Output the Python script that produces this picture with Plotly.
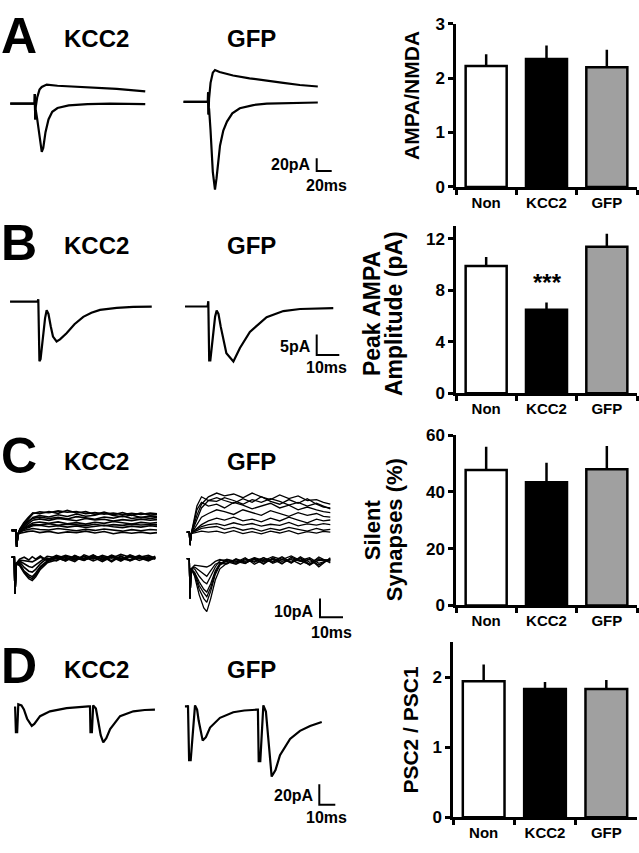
import plotly.graph_objects as go

W, H = 639, 853
FONT = "Liberation Sans, Arial, sans-serif"

# ---- bar chart data (mean, sem) ----
groups = ["Non", "KCC2", "GFP"]
bar_colors = ["white", "black", "#a0a0a0"]

ampa_nmda = [2.22, 2.35, 2.20]
ampa_nmda_sem = [0.22, 0.25, 0.32]
peak_ampa = [9.9, 6.5, 11.4]
peak_ampa_sem = [0.7, 0.55, 1.0]
silent_pct = [47.8, 43.4, 48.0]
silent_pct_sem = [8.2, 6.9, 8.2]
psc_ratio = [1.94, 1.83, 1.83]
psc_ratio_sem = [0.24, 0.10, 0.13]

# ---- example traces (ms, pA) ----
# A: AMPA (-70 mV, inward) and NMDA (+40 mV, outward)
a_kcc2_ampa_t = [-33, -0.5, -0.3, 0.3, 1, 3, 6, 9, 11, 14, 18, 23, 30, 45, 70, 100, 147]
a_kcc2_ampa_i = [0, 0, 15, -25, -10, -25, -55, -76, -70, -45, -25, -13, -7, -3, -1, 0, -1]
a_kcc2_nmda_t = [-33, -0.5, -0.3, 0.3, 1, 3, 6, 9, 15.6, 30, 64, 109, 147]
a_kcc2_nmda_i = [0, 0, 15, -25, -5, 10, 22, 26, 29.8, 28, 25.7, 23, 19]
a_gfp_ampa_t = [-33, -0.5, -0.3, 0.3, 1, 3, 6, 8.9, 11, 15.6, 20, 24.9, 32, 42, 60, 78, 110, 146]
a_gfp_ampa_i = [0, 0, 15, -20, -10, -45, -110, -138, -120, -69, -45, -31, -18, -10, -5, -2.6, -1.5, -1]
a_gfp_nmda_t = [-33, -0.5, -0.3, 0.3, 1, 3, 6, 8.9, 15, 33, 55, 78, 100, 122, 146]
a_gfp_nmda_i = [0, 0, 15, -20, 5, 30, 46, 50, 47, 41.5, 37, 34, 30, 26.6, 24.2]

# B: evoked AMPA EPSCs
b_kcc2_t = [-12.5, -0.3, 0, 0.5, 1.0, 2.0, 3.0, 3.7, 4.5, 5.5, 6.5, 8.1, 9.6, 12.5, 16, 19.9, 23.5, 27.3, 34.7, 42, 50.2]
b_kcc2_i = [0, 0, 0.6, -14.5, -14.0, -8.5, -4.0, -2.1, -3.0, -6.0, -8.5, -9.7, -9.2, -7.7, -5.5, -3.7, -2.7, -2.0, -1.5, -1.3, -1.2]
b_gfp_t = [-10.3, -0.3, 0, 0.4, 0.9, 2.0, 3.0, 3.7, 4.5, 5.5, 8.0, 11.1, 14.0, 18.4, 25.8, 33.2, 40.6, 55.3]
b_gfp_i = [0, 0, 1.3, -13.1, -13.1, -7.3, -2.5, -1.0, -1.8, -4.9, -11.4, -13.4, -10.1, -6.2, -2.6, -1.1, -0.6, -0.4]

# C: minimal stimulation sweeps at +40 mV (upper) and -60 mV (lower)
c_kcc2_pos_t = [-2.2, -0.3, 0, 0.5, 1.5, 3, 5, 7, 10, 14, 18, 22, 26, 30, 34, 38, 42, 46, 50, 54, 58, 61]
c_kcc2_pos_sweeps = [
    [0, 0, -8.8, -2, 1, 3, 6, 9, 10, 9.5, 10.5, 9.8, 10.2, 9, 9.6, 8.8, 9.4, 8.5, 9.2, 8.6, 9.3, 9.0],
    [0, 0, -8.8, -2, 1, 4, 7, 9.5, 9, 10.2, 9.2, 10.8, 9.4, 10.1, 8.6, 9.9, 8.4, 9.6, 8.1, 9.4, 8.3, 8.6],
    [0, 0, -8.8, -2, 0.5, 2, 4.5, 7, 8, 7.2, 8.4, 7.5, 8.8, 7.6, 8.2, 9.5, 8.0, 7.4, 8.3, 7.0, 7.8, 7.5],
    [0, 0, -8.8, -2, 0.5, 2.5, 5, 6.5, 7.2, 6.4, 7.0, 6.2, 7.4, 6.8, 6.0, 7.2, 6.6, 7.8, 6.4, 7.1, 6.5, 6.9],
    [0, 0, -8.8, -2, 0, 1.5, 3.5, 5.5, 6.2, 5.4, 6.5, 5.8, 5.2, 6.4, 5.6, 6.0, 5.0, 5.8, 5.3, 6.1, 5.5, 5.8],
    [0, 0, -8.8, -2, 0, 1, 2.5, 4, 4.5, 3.8, 4.6, 3.6, 4.2, 3.4, 4.4, 3.8, 4.8, 4.0, 3.5, 4.3, 3.9, 4.2],
    [0, 0, -8.8, -2, -0.5, 1, 2, 3.2, 3.0, 3.6, 2.8, 3.4, 3.0, 2.6, 3.3, 2.5, 3.1, 2.7, 3.4, 2.9, 3.2, 3.0],
    [0, 0, -8.8, -2, -0.5, 0.5, 1.5, 2.5, 2.8, 2.0, 2.6, 1.8, 2.4, 1.6, 2.2, 2.8, 2.0, 1.5, 2.3, 1.8, 2.5, 2.2],
    [0, 0, -8.8, -2, -1, 0, 0.5, 1, 0.5, 0.2, 1.0, 0.4, -0.2, 0.6, 0.0, 0.8, 0.2, -0.4, 0.4, -0.2, 0.5, 0.2],
    [0, 0, -8.8, -2, -1.5, -1, -0.5, -0.3, -1.2, -0.5, -1.5, -0.8, -1.2, -0.4, -1.4, -0.6, -1.8, -1.0, -1.5, -0.9, -1.6, -1.2],
]
c_kcc2_neg_t = [-1.5, -0.3, 0, 0.5, 2, 4, 6, 7.5, 9, 11, 14, 18, 22, 26, 30, 34, 38, 42, 46, 50, 54, 58, 61]
c_kcc2_neg_sweeps = [
    [0.5, 0.5, -19, -3, -4, -8, -11, -12, -10, -6, -2.5, -1, 0.5, -1, 1, -0.5, 1.5, 0, 2, 0.5, 1, -0.5, 0.5],
    [0.5, 0.5, -19, -3, -3.5, -7.5, -10, -11, -9, -5, -2, 0.5, -1.5, 1.2, -0.4, 1.8, -1, 0.6, -1.6, 1.2, 0.2, -1.4, 0.4],
    [0.5, 0.5, -19, -3, -3, -7, -9, -10, -8, -4.5, -1.5, 1, -0.8, 0.8, -1.2, 1.5, -0.5, 1.2, -1, 1.8, -0.2, 0.8, 0],
    [0.5, 0.5, -19, -3, -2, -5, -7, -7.5, -6, -3, 0, -1.5, 1.2, -0.5, 0.8, -1.5, 0.5, -1.2, 0.8, -0.8, 1.5, -1, 0.2],
    [0.5, 0.5, -19, -3, -1.5, -3, -4.5, -5, -3.5, -1.5, 1, 0.2, -1.5, 1.5, -0.8, 0.5, -1.8, 0.8, -0.5, 1, -1.2, 0.5, -0.5],
    [0.5, 0.5, -19, -3, -1, -1.5, -2, -2, -1, 0.5, -1, 1.5, 0, -1.8, 1.8, 0, 1, -2, 1.2, -1.5, 0.5, 1.5, 0],
    [0.5, 0.5, -19, -3, -0.5, 0.5, -1, 0.8, -0.5, 1.2, -1.5, -0.2, 1.6, 0.4, -1.2, 1.0, -0.8, 1.6, -0.2, -1.2, 0.8, -0.6, 1.0],
]
c_gfp_pos_t = [-1.4, -0.3, 0, 0.5, 1.5, 3, 5, 8, 11.6, 15, 19, 23, 27, 31, 35, 39, 43, 47, 51, 55, 58, 61]
c_gfp_pos_sweeps = [
    [0, 0, -7, -1, 3, 9, 15, 19, 21, 19.5, 20.5, 18.5, 21, 19, 17.5, 20, 18, 19.5, 17, 17.5, 16, 15],
    [0, 0, -7, -1, 2, 7, 13, 17, 18.5, 17, 15.5, 18, 16, 19, 16.5, 15, 17.5, 15.5, 18, 15, 13.5, 13],
    [0, 0, -7, -1, 5, 14, 19, 17, 16.5, 18.5, 17, 15, 17.5, 16, 18, 16.5, 14.5, 16, 14, 15.5, 14, 12.5],
    [0, 0, -7, -1, 4, 12, 16, 14, 15, 13, 16, 14.5, 12.5, 14, 15.5, 13, 14.5, 12, 13.5, 12, 11, 10.5],
    [0, 0, -7, -1, 1, 4, 8, 10, 12, 11, 9.5, 12, 10.5, 9, 11.5, 10, 8.5, 10.5, 9, 10, 8.5, 8],
    [0, 0, -7, -1, 0.5, 2, 4, 6, 7.5, 6.5, 8, 6, 7, 5.5, 7.5, 6, 8, 6.5, 5, 7, 6, 6.5],
    [0, 0, -7, -1, 0.5, 1.5, 3, 4, 4.5, 3.5, 5, 3.8, 4.6, 3.2, 4.2, 3.6, 5.2, 3.4, 4.4, 3.8, 4.6, 4.0],
    [0, 0, -7, -1, 0, 1, 2, 2.5, 3, 1.5, 2.5, 1, 2, 0.5, 2, 1, 2.5, 1.5, 0.5, 2, 1, 1.5],
    [0, 0, -7, -1, -0.5, 0, 0.5, 0, 0.5, -0.5, 0.8, -0.8, 0.2, -1.0, 0.5, -0.5, 0.8, -1, 0.2, -0.6, 0.4, 0],
]
c_gfp_neg_t = [-1.4, -0.3, 0, 0.5, 2, 4, 6, 7.3, 9, 11, 13, 16, 20, 24, 28, 32, 36, 40, 44, 48, 52, 56, 61]
c_gfp_neg_sweeps = [
    [1.5, 1.5, -20, -4, -8, -18, -25, -27, -20, -10, -4, -1, 1, 0, 2, 0.5, 2.5, 1, 3, 0.5, 2, -1, 1],
    [1.5, 1.5, -20, -4, -7, -15, -20, -22, -16, -7, -2, 0.5, -1, 1.5, -0.5, 2, 0, 2.5, -0.5, 1.5, -2, 1, 0.5],
    [1.5, 1.5, -20, -4, -6, -13, -17, -19, -14, -6, -1.5, 1.2, 0, -1.2, 1.8, -0.2, 1.2, -1.4, 2.2, 0.2, -1.6, 2.4, -0.8],
    [1.5, 1.5, -20, -4, -6, -11, -15, -16.5, -12, -5, -1, -1.5, 1.5, -0.5, 1, -1, 1.5, 0, 1, -1.5, 1.5, -3, 2],
    [1.5, 1.5, -20, -4, -4, -8, -11, -12, -8, -3, 0.5, 1, -0.5, 2, -1.5, 1, -0.5, 2, -1, 2.5, -0.5, 1.5, 0],
    [1.5, 1.5, -20, -4, -3, -5, -7, -8, -5, -1.5, -0.5, -1, 1, -1, 1.5, -1.5, 2, -1, 1.5, 0, 1, -2, 1.5],
    [1.5, 1.5, -20, -4, -2, -2.5, -3, -3, -2, 0, 1, 0, -1.5, 1, 0, 2, -1, 1, -0.5, 2, -1.5, 0.5, 1],
]

# D: paired-pulse responses
d_kcc2_t = [-1, -0.5, 0.3, 1, 3, 4.5, 6.5, 9.4, 11, 14.6, 20.8, 31.2, 44.8, 45.8, 46.1, 47, 47.8, 49.5, 51, 52.5, 54.1, 56, 58.4, 64.6, 72.9, 80, 86.4]
d_kcc2_i = [0, -25, -25, 2, 1, -3, -12, -19, -17, -9.5, -4.8, -1.6, 0, 0, -25, -25, 1, -2, -15, -28, -35, -31, -22, -9.5, -4.8, -3.5, -3.2]
d_gfp_t = [-2.1, -0.5, -0.2, 0.5, 1.5, 3.0, 4.2, 5.5, 6.5, 9, 11, 13.6, 19.8, 28.1, 35, 42.7, 43.5, 44.0, 45.0, 46.9, 48.5, 50.5, 52.1, 54.5, 57.3, 63.6, 69.8, 76.1, 83.4]
d_gfp_i = [0, 0, 1, -52.4, -52.4, -20, 1, -3, -14, -33.3, -30, -20.6, -11.1, -5.7, -4, -3.2, -3.2, -53.3, -53.3, 1, -5, -40, -68.3, -62, -47.6, -31.7, -23.8, -19, -15.2]

# ---- layout geometry, in pixels of the 639x853 page ----
trace_rows = [
    dict(ytop=45, ybot=200, ref=96.7, pxms=0.75, pxpa=0.65, bar=(316.7, 165.7, 20, 20)),
    dict(ytop=265, ybot=400, ref=299.3, pxms=2.26, pxpa=4.2, bar=(316.7, 354, 5, 10)),
    dict(ytop=480, ybot=645, ref=533.3, pxms=2.3, pxpa=1.9, bar=(320, 622, 10, 10)),
    dict(ytop=690, ybot=840, ref=713.3, pxms=1.6, pxpa=1.05, bar=(319.3, 814, 20, 10)),
]
bar_rows = [
    dict(x0=456, x1=637, ytop=15, ybot=182, rng=[0, 3], ticks=[0, 1, 2, 3]),
    dict(x0=456, x1=637, ytop=222, ybot=393, rng=[0, 13], ticks=[0, 4, 8, 12]),
    dict(x0=456, x1=637, ytop=436, ybot=610, rng=[0, 60], ticks=[0, 20, 40, 60]),
    dict(x0=453, x1=637, ytop=647.5, ybot=826.7, rng=[0, 2.5], ticks=[0, 1, 2]),
]


def px(x, y):
    return x / W, 1 - y / H


fig = go.Figure()
layout = {}


def add_wave(row_i, t, i, stim_px, base_px, width=2.2):
    r = trace_rows[row_i]
    n = 2 * row_i + 1
    xs = [v + stim_px / r["pxms"] for v in t]
    ys = [v + (r["ref"] - base_px) / r["pxpa"] for v in i]
    fig.add_trace(go.Scatter(x=xs, y=ys, mode="lines", line=dict(color="black", width=width),
                             xaxis="x%d" % n, yaxis="y%d" % n, hoverinfo="skip"))


for k, r in enumerate(trace_rows):
    n = 2 * k + 1
    layout["xaxis%d" % n] = dict(domain=[0, 360 / W], range=[0, 360 / r["pxms"]], visible=False,
                                 anchor="y%d" % n)
    layout["yaxis%d" % n] = dict(domain=[1 - r["ybot"] / H, 1 - r["ytop"] / H],
                                 range=[(r["ref"] - r["ybot"]) / r["pxpa"], (r["ref"] - r["ytop"]) / r["pxpa"]],
                                 visible=False, anchor="x%d" % n)
    # scale bar
    cx, cy, amp, dur = r["bar"]
    x0 = cx / r["pxms"]
    y0 = (r["ref"] - cy) / r["pxpa"]
    fig.add_trace(go.Scatter(x=[x0, x0, x0 + dur], y=[y0 + amp, y0, y0], mode="lines",
                             line=dict(color="black", width=2), xaxis="x%d" % n, yaxis="y%d" % n,
                             hoverinfo="skip"))

# traces
add_wave(0, a_kcc2_nmda_t, a_kcc2_nmda_i, 35, 96.7)
add_wave(0, a_kcc2_ampa_t, a_kcc2_ampa_i, 35, 96.7)
add_wave(0, a_gfp_nmda_t, a_gfp_nmda_i, 208.3, 95)
add_wave(0, a_gfp_ampa_t, a_gfp_ampa_i, 208.3, 95)
add_wave(1, b_kcc2_t, b_kcc2_i, 38.3, 299.3)
add_wave(1, b_gfp_t, b_gfp_i, 208.3, 304.3)
for s in c_kcc2_pos_sweeps:
    add_wave(2, c_kcc2_pos_t, s, 16.7, 533.3, width=1.6)
for s in c_kcc2_neg_sweeps:
    add_wave(2, c_kcc2_neg_t, s, 15, 561.7, width=1.6)
for s in c_gfp_pos_sweeps:
    add_wave(2, c_gfp_pos_t, s, 190, 535, width=1.3)
for s in c_gfp_neg_sweeps:
    add_wave(2, c_gfp_neg_t, s, 190, 565, width=1.3)
add_wave(3, d_kcc2_t, d_kcc2_i, 16.7, 713.3)
add_wave(3, d_gfp_t, d_gfp_i, 188.3, 713.3)

# bar charts
bar_data = [(ampa_nmda, ampa_nmda_sem), (peak_ampa, peak_ampa_sem),
            (silent_pct, silent_pct_sem), (psc_ratio, psc_ratio_sem)]
for k, (b, (vals, sem)) in enumerate(zip(bar_rows, bar_data)):
    n = 2 * k + 2
    fig.add_trace(go.Bar(x=groups, y=vals, width=0.68,
                         marker=dict(color=bar_colors, line=dict(color="black", width=2.5)),
                         error_y=dict(type="data", symmetric=False, array=sem, arrayminus=[0, 0, 0],
                                      color="black", thickness=2.5, width=0),
                         xaxis="x%d" % n, yaxis="y%d" % n, hoverinfo="skip"))
    layout["xaxis%d" % n] = dict(domain=[b["x0"] / W, b["x1"] / W], range=[-0.5, 2.5], anchor="y%d" % n,
                                 showline=True, linecolor="black", linewidth=2.5, ticks="outside",
                                 tickson="boundaries", ticklen=5, tickwidth=2.5, tickcolor="black",
                                 tickfont=dict(size=15, color="black", weight="bold"), showgrid=False)
    layout["yaxis%d" % n] = dict(domain=[1 - b["ybot"] / H, 1 - b["ytop"] / H], range=b["rng"],
                                 anchor="x%d" % n, tickvals=b["ticks"], showline=True, linecolor="black",
                                 linewidth=2.5, ticks="outside", ticklen=5, tickwidth=2.5, tickcolor="black",
                                 tickfont=dict(size=17, color="black", weight="bold"),
                                 showgrid=False, zeroline=False)

annotations = []


def label(text, x, y, size, anchor="center", angle=0):
    xp, yp = px(x, y)
    annotations.append(dict(text=text, x=xp, y=yp, xref="paper", yref="paper", showarrow=False,
                            xanchor=anchor, yanchor="middle", textangle=angle,
                            font=dict(size=size, color="black", weight="bold", family=FONT)))


for letter, y in zip("ABCD", [27.5, 239, 457, 672]):
    label(letter, 19, y, 50)
for y in [30, 241.7, 462.5, 675.8]:
    label("KCC2", 96, y, 24)
    label("GFP", 252, y, 24)

# scale bar labels
label("20pA", 313, 159, 16, "right")
label("20ms", 326, 181, 16)
label("5pA", 313, 345, 16, "right")
label("10ms", 327, 367, 16)
label("10pA", 316, 616.7, 16, "right")
label("10ms", 331, 638, 16)
label("20pA", 316, 804, 16, "right")
label("10ms", 326, 827, 16)

# y axis titles
label("AMPA/NMDA", 411, 89, 21, angle=-90)
label("Peak AMPA", 372, 312, 23, angle=-90)
label("Amplitude (pA)", 394, 312, 23, angle=-90)
label("Silent", 372, 533, 22, angle=-90)
label("Synapses (%)", 394, 533, 22, angle=-90)
label("PSC2 / PSC1", 411, 737, 21, angle=-90)
label("***", 547, 280, 24)

fig.update_layout(width=W, height=H, margin=dict(l=0, r=0, t=0, b=0), showlegend=False,
                  paper_bgcolor="white", plot_bgcolor="white", font=dict(family=FONT, color="black"),
                  annotations=annotations, **layout)

# the page body has a default 8px margin; drop it so the figure sits at (0, 0)
fig.write_html("out.html", config={"displayModeBar": False},
               post_script="document.body.style.margin='0px';")
